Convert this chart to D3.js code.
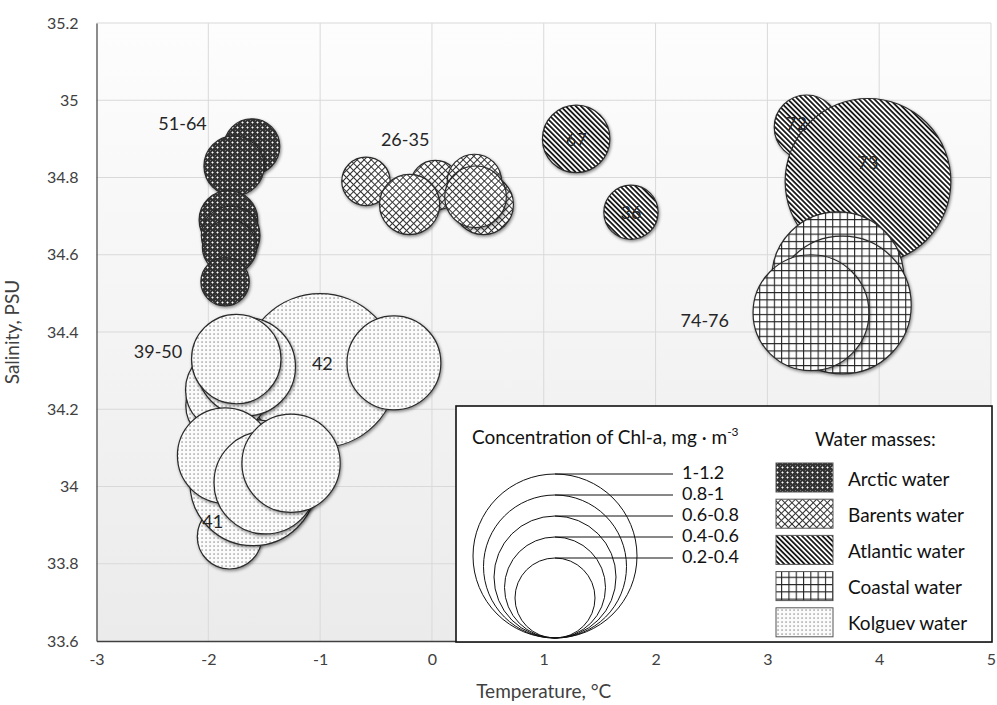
<!DOCTYPE html>
<html><head><meta charset="utf-8">
<script src="https://cdn.jsdelivr.net/npm/d3@7"></script>
<style>body{margin:0;background:#fff}svg{display:block;font-family:Lato,'Open Sans',sans-serif}</style>
</head><body><svg id="c" width="997" height="705"></svg>
<script>
// ---------- data ----------
const xTicks = [-3,-2,-1,0,1,2,3,4,5];
const xTickLabels = ["-3","-2","-1","0","1","2","3","4","5"];
const yTicks = [33.6,33.8,34,34.2,34.4,34.6,34.8,35,35.2];
const yTickLabels = ["33.6","33.8","34","34.2","34.4","34.6","34.8","35","35.2"];

const waterMasses = ["Arctic water","Barents water","Atlantic water","Coastal water","Kolguev water"];

const arcticT = [-1.61,-1.77,-1.82,-1.80,-1.81,-1.85];
const arcticS = [34.88,34.83,34.69,34.65,34.62,34.53];
const arcticChl = [0.38,0.41,0.40,0.40,0.37,0.33];

const barentsT = [0.03,0.38,0.46,-0.59,-0.20,0.39];
const barentsS = [34.78,34.79,34.73,34.79,34.73,34.75];
const barentsChl = [0.34,0.37,0.41,0.33,0.41,0.42];

const atlanticT = [1.29,1.78,3.35,3.90];
const atlanticS = [34.90,34.71,34.93,34.79];
const atlanticChl = [0.46,0.37,0.44,1.13];

const coastalT = [3.63,3.67,3.39];
const coastalS = [34.54,34.47,34.45];
const coastalChl = [0.90,0.94,0.79];

const kolguevT = [-1.81,-1.00,-1.60,-1.88,-1.83,-1.66,-1.75,-0.34,-1.85,-1.49,-1.26];
const kolguevS = [33.87,34.30,34.01,34.21,34.25,34.31,34.33,34.32,34.08,34.01,34.06];
const kolguevChl = [0.44,1.05,0.86,0.49,0.57,0.67,0.61,0.64,0.65,0.70,0.67];

const annText = ["51-64","26-35","39-50","74-76","67","36","72","73","42","41"];
const annT = [-2.23,-0.24,-2.45,2.44,1.29,1.78,3.26,3.90,-0.98,-1.96];
const annS = [34.94,34.90,34.35,34.43,34.90,34.71,34.94,34.84,34.32,33.91];

const chlClasses = ["1-1.2","0.8-1","0.6-0.8","0.4-0.6","0.2-0.4"];
const chlUpper = [1.2,1.0,0.8,0.6,0.4];

// ---------- setup ----------
const svg = d3.select("#c");
const x = d3.scaleLinear().domain([-3,5]).range([96.5,991]);
const y = d3.scaleLinear().domain([33.6,35.2]).range([641,23]);
const r = d3.scaleLinear().domain([0,1.2]).range([0,88]);

const defs = svg.append("defs");
const grad = defs.append("linearGradient").attr("id","bg").attr("x1",0).attr("y1",0).attr("x2",0).attr("y2",1);
grad.append("stop").attr("offset","0%").attr("stop-color","#fdfdfd");
grad.append("stop").attr("offset","100%").attr("stop-color","#ebebeb");

defs.append("filter").attr("id","sh").attr("x","-20%").attr("y","-20%").attr("width","140%").attr("height","140%")
  .append("feDropShadow").attr("dx",1).attr("dy",1.5).attr("stdDeviation",1.4)
  .attr("flood-color","#000").attr("flood-opacity",0.45);

function pat(id,w,h,tr){
  const p = defs.append("pattern").attr("id",id).attr("patternUnits","userSpaceOnUse")
    .attr("width",w).attr("height",h);
  if(tr) p.attr("patternTransform",tr);
  return p;
}
// Arctic: dark checker with light specks
let p = pat("pArctic",5,5);
p.append("rect").attr("width",5).attr("height",5).attr("fill","#333");
p.append("rect").attr("x",1).attr("y",2).attr("width",3).attr("height",1).attr("fill","#9a9a9a");
p.append("rect").attr("x",2).attr("y",1).attr("width",1).attr("height",3).attr("fill","#9a9a9a");
p.append("rect").attr("x",2).attr("y",2).attr("width",1).attr("height",1).attr("fill","#ffffff");
p.append("rect").attr("x",0).attr("y",0).attr("width",1).attr("height",1).attr("fill","#777");
// Barents: diagonal cross hatch
p = pat("pBarents",5,5,"rotate(45)");
p.append("rect").attr("width",5).attr("height",5).attr("fill","#fff");
p.append("path").attr("d","M0,0.5H5M0.5,0V5").attr("stroke","#333").attr("stroke-width",1);
// Atlantic: dense diagonal stripes "\"
p = pat("pAtlantic",3.6,3.6,"rotate(-45)");
p.append("rect").attr("width",3.6).attr("height",3.6).attr("fill","#fff");
p.append("rect").attr("width",1.8).attr("height",3.6).attr("fill","#1a1a1a");
// Coastal: square grid
p = pat("pCoastal",7.3,7.3);
p.append("rect").attr("width",7.3).attr("height",7.3).attr("fill","#fff");
p.append("path").attr("d","M0,0.5H7.3M0.5,0V7.3").attr("stroke","#222").attr("stroke-width",1.2);
// Kolguev: small dots
p = pat("pKolguev",4,4);
p.append("rect").attr("width",4).attr("height",4).attr("fill","#fbfbfb");
p.append("rect").attr("x",1.5).attr("y",1.5).attr("width",1.1).attr("height",1.1).attr("fill","#555");

// ---------- plot area ----------
svg.append("rect").attr("x",x(-3)).attr("y",y(35.2)).attr("width",x(5)-x(-3)).attr("height",y(33.6)-y(35.2))
  .attr("fill","url(#bg)");

const grid = svg.append("g");
grid.selectAll("line.v").data(xTicks.slice(1)).join("line")
  .attr("x1",d=>x(d)).attr("x2",d=>x(d)).attr("y1",y(35.2)).attr("y2",y(33.6))
  .attr("stroke","#d9d9d9").attr("stroke-width",1);
grid.selectAll("line.h").data(yTicks.slice(1)).join("line")
  .attr("y1",d=>y(d)).attr("y2",d=>y(d)).attr("x1",x(-3)).attr("x2",x(5))
  .attr("stroke","#d9d9d9").attr("stroke-width",1);

const xAxis = d3.axisBottom(x).tickValues(xTicks).tickSize(0).tickPadding(13)
  .tickFormat((d,i)=>xTickLabels[i]);
const gx = svg.append("g").attr("transform",`translate(0,${y(33.6)})`).call(xAxis);
gx.select(".domain").attr("stroke","#404040").attr("stroke-width",1.6);
gx.selectAll("text").attr("font-size",16).attr("fill","#404040").attr("font-family","Lato");

const yAxis = d3.axisLeft(y).tickValues(yTicks).tickSize(0).tickPadding(18)
  .tickFormat((d,i)=>yTickLabels[i]);
const gy = svg.append("g").attr("transform",`translate(${x(-3)},0)`).call(yAxis);
gy.select(".domain").attr("stroke","#404040").attr("stroke-width",1.2);
gy.selectAll("text").attr("font-size",16).attr("fill","#404040").attr("font-family","Lato");

svg.append("text").attr("x",(x(-3)+x(5))/2).attr("y",698).attr("text-anchor","middle")
  .attr("font-size",19).attr("fill","#404040").text("Temperature, °C");
svg.append("text").attr("transform",`translate(19,${(y(33.6)+y(35.2))/2}) rotate(-90)`)
  .attr("text-anchor","middle").attr("font-size",19).attr("fill","#404040").text("Salinity, PSU");

// ---------- bubbles ----------
const series = [
  {T:arcticT,S:arcticS,C:arcticChl,fill:"url(#pArctic)"},
  {T:barentsT,S:barentsS,C:barentsChl,fill:"url(#pBarents)"},
  {T:atlanticT,S:atlanticS,C:atlanticChl,fill:"url(#pAtlantic)"},
  {T:coastalT,S:coastalS,C:coastalChl,fill:"url(#pCoastal)"},
  {T:kolguevT,S:kolguevS,C:kolguevChl,fill:"url(#pKolguev)"}
];
const gb = svg.append("g");
series.forEach(s=>{
  const pts = s.T.map((t,i)=>({t, s:s.S[i], c:s.C[i]}));
  gb.append("g").selectAll("circle").data(pts).join("circle")
    .attr("cx",d=>x(d.t)).attr("cy",d=>y(d.s)).attr("r",d=>r(d.c))
    .attr("fill",s.fill).attr("stroke","#2a2a2a").attr("stroke-width",1.2)
    .attr("filter","url(#sh)");
});

svg.append("g").selectAll("text").data(annText).join("text")
  .attr("x",(d,i)=>x(annT[i])).attr("y",(d,i)=>y(annS[i]))
  .attr("text-anchor","middle").attr("dominant-baseline","central")
  .attr("font-size",18).attr("fill","#262626").text(d=>d);

// ---------- legend ----------
const lg = svg.append("g");
lg.append("rect").attr("x",456).attr("y",406).attr("width",536).attr("height",236)
  .attr("fill","#fff").attr("stroke","#111").attr("stroke-width",1.6);
const t1 = lg.append("text").attr("x",472).attr("y",444).attr("font-size",19).attr("fill","#111");
t1.append("tspan").text("Concentration  of Chl-a, mg · m");
t1.append("tspan").attr("font-size",12).attr("dy",-8).text("-3");
lg.append("text").attr("x",815).attr("y",446).attr("font-size",19).attr("fill","#111").text("Water masses:");

const lr = d3.scaleLinear().domain([0.4,1.2]).range([40,82]);
const cx0 = 555, cb = 638;
lg.selectAll("circle").data(chlUpper).join("circle")
  .attr("cx",cx0).attr("cy",d=>cb-lr(d)).attr("r",d=>lr(d))
  .attr("fill","none").attr("stroke","#111").attr("stroke-width",1);
lg.selectAll("line").data(chlUpper).join("line")
  .attr("x1",cx0).attr("x2",673).attr("y1",d=>cb-2*lr(d)).attr("y2",d=>cb-2*lr(d))
  .attr("stroke","#111").attr("stroke-width",1);
lg.selectAll("text.cl").data(chlClasses).join("text").attr("class","cl")
  .attr("x",682).attr("y",(d,i)=>cb-2*lr(chlUpper[i])-2).attr("dominant-baseline","central")
  .attr("font-size",18).attr("fill","#111").text(d=>d);

const pats = ["url(#pArctic)","url(#pBarents)","url(#pAtlantic)","url(#pCoastal)","url(#pKolguev)"];
const sw = lg.append("g");
sw.selectAll("rect").data(waterMasses).join("rect")
  .attr("x",776).attr("y",(d,i)=>463+i*36.2).attr("width",57).attr("height",29)
  .attr("fill",(d,i)=>pats[i]).attr("stroke","#555").attr("stroke-width",1);
sw.selectAll("text").data(waterMasses).join("text")
  .attr("x",848).attr("y",(d,i)=>478+i*36.2).attr("dominant-baseline","central")
  .attr("font-size",19).attr("fill","#111").text(d=>d);
</script></body></html>
